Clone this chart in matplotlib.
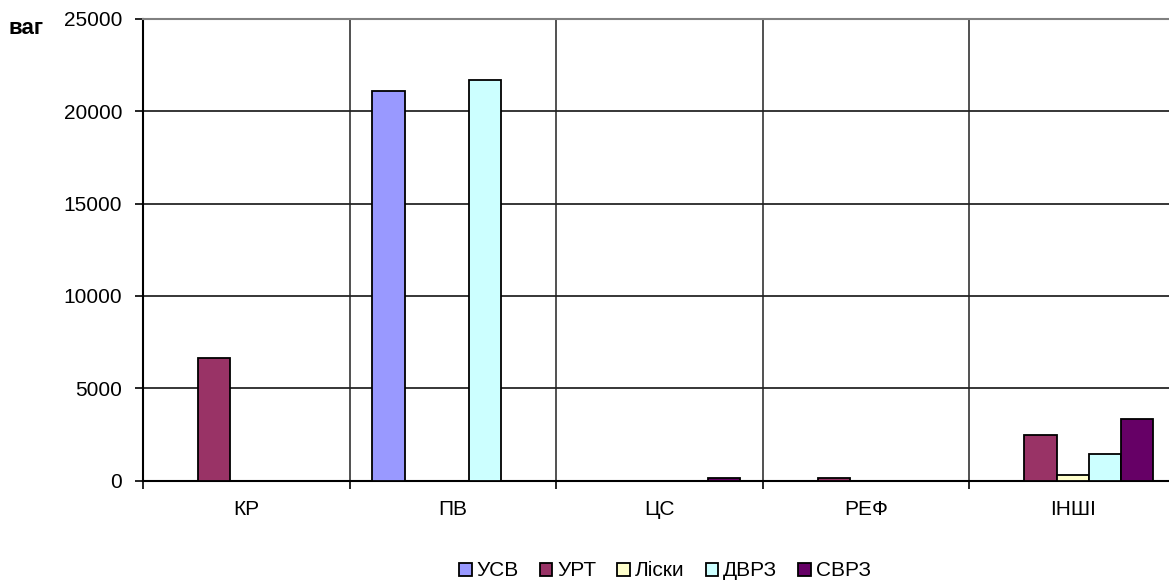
import numpy as np
import matplotlib.pyplot as plt

plt.rcParams['font.family'] = ['Liberation Sans', 'DejaVu Sans']

categories = ['КР', 'ПВ', 'ЦС', 'РЕФ', 'ІНШІ']
series_names = ['УСВ', 'УРТ', 'Ліски', 'ДВРЗ', 'СВРЗ']
usv = [0, 21100, 0, 0, 0]
urt = [6650, 0, 0, 150, 2470]
lisky = [0, 0, 0, 0, 300]
dvrz = [0, 21700, 0, 0, 1420]
svrz = [0, 0, 150, 0, 3330]
colors = ['#9999FF', '#993366', '#FFFFCC', '#CCFFFF', '#660066']

fig = plt.figure(figsize=(11.69, 5.82), dpi=100)
ax = fig.add_axes([143 / 1169, 101.5 / 582, 1033 / 1169, 461.5 / 582])

width = 0.156
centers = np.arange(len(categories)) + 0.5
for k, (name, vals, c) in enumerate(zip(series_names, [usv, urt, lisky, dvrz, svrz], colors)):
    ax.bar(centers + (k - 2) * width, vals, width, color=c, edgecolor='black',
           linewidth=1.3, label=name, zorder=3)

ax.set_xlim(0, len(categories))
ax.set_ylim(0, 25000)
ax.set_yticks(range(0, 25001, 5000))
for y in range(5000, 25000, 5000):
    ax.axhline(y, color='black', linewidth=1.1, zorder=1)
for x in range(1, len(categories)):
    ax.axvline(x, color='#222222', linewidth=1.1, zorder=1)

ax.set_xticks(range(len(categories) + 1))
ax.set_xticklabels([])
ax.set_xticks(centers, minor=True)
ax.set_xticklabels(categories, minor=True)
ax.tick_params(axis='x', which='minor', length=0, pad=14, labelsize=15)
ax.tick_params(axis='x', which='major', length=6, width=1.2, direction='out')
ax.tick_params(axis='y', length=6, width=1.2, direction='out', labelsize=15, pad=9)

ax.spines['top'].set_color('#808080')
ax.spines['top'].set_linewidth(1.5)
ax.spines['right'].set_visible(False)
for s in ['left', 'bottom']:
    ax.spines[s].set_linewidth(1.5)

fig.text(8 / 1169, 1 - 28 / 582, 'ваг', fontsize=16, fontweight='bold', va='center')

fig.legend(loc='center', bbox_to_anchor=(665 / 1169, 1 - 571 / 582), ncol=5,
           frameon=False, fontsize=15, handlelength=0.6, handleheight=0.6,
           handletextpad=0.25, columnspacing=1.0, borderpad=0)

fig.savefig('out.png', dpi=100)
